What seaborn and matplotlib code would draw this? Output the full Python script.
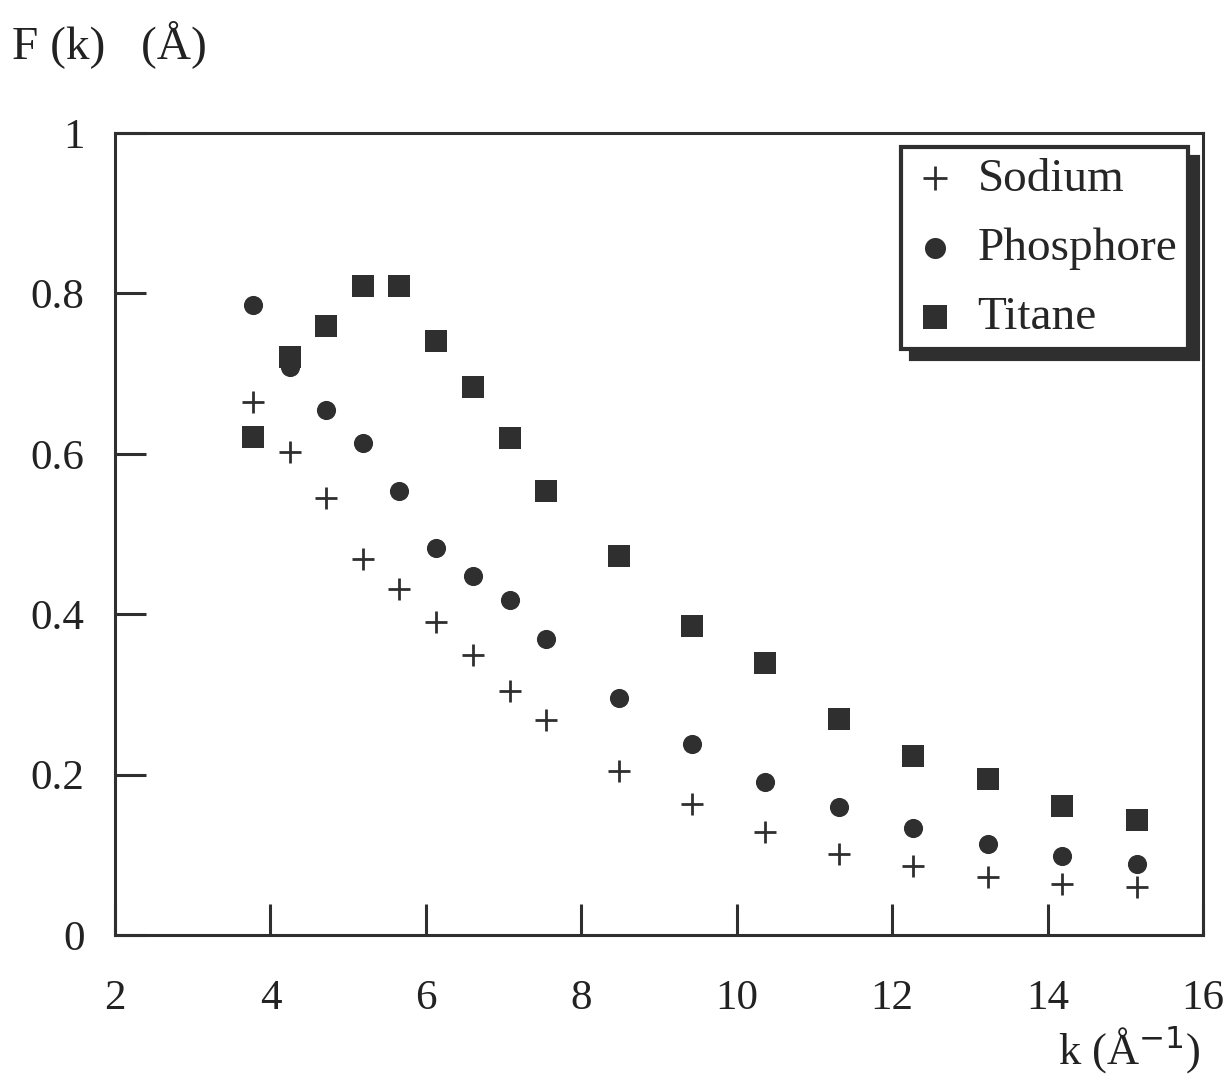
import numpy as np
import pandas as pd
import matplotlib
matplotlib.use('Agg')
import matplotlib.pyplot as plt
import seaborn as sns

# ── Data ───────────────────────────────────────────────────────────────
k_values = [3.77, 4.25, 4.72, 5.19, 5.66, 6.13, 6.61, 7.08, 7.55,
            8.49, 9.43, 10.37, 11.32, 12.27, 13.23, 14.19, 15.15]

sodium = [0.665, 0.602, 0.545, 0.469, 0.431, 0.390, 0.349, 0.304, 0.268,
          0.204, 0.163, 0.129, 0.101, 0.086, 0.073, 0.064, 0.060]
phosphore = [0.785, 0.708, 0.655, 0.613, 0.554, 0.483, 0.448, 0.418, 0.369,
             0.296, 0.238, 0.191, 0.160, 0.134, 0.113, 0.098, 0.089]
titane = [0.621, 0.721, 0.759, 0.809, 0.809, 0.741, 0.683, 0.620, 0.554,
          0.473, 0.385, 0.339, 0.269, 0.223, 0.194, 0.161, 0.143]

series_names = ['Sodium', 'Phosphore', 'Titane']
x_ticks = [2, 4, 6, 8, 10, 12, 14, 16]
y_ticks = [0, 0.2, 0.4, 0.6, 0.8, 1]
y_tick_labels = ['0', '0.2', '0.4', '0.6', '0.8', '1']

df = pd.DataFrame({
    'k': k_values * 3,
    'F': sodium + phosphore + titane,
    'element': np.repeat(series_names, len(k_values)),
})

# ── Style ─────────────────────────────────────────────────────────────
sns.set_style('white')
plt.rcParams['font.family'] = ['Liberation Serif', 'DejaVu Serif']
INK = '#2f2f2f'

fig = plt.figure(figsize=(12.32, 10.77), dpi=100)
ax = fig.add_axes([0.0933, 0.1318, 0.8832, 0.7447])

marker_kw = {
    'Sodium':    dict(marker='+', s=260, linewidth=2.0, color=INK),
    'Phosphore': dict(marker='o', s=190, linewidth=0, color=INK),
    'Titane':    dict(marker='s', s=260, linewidth=0, color=INK),
}
for name in series_names:
    sub = df[df['element'] == name]
    sns.scatterplot(data=sub, x='k', y='F', label=name, ax=ax,
                    legend=False, **marker_kw[name])

ax.set_xlim(2, 16)
ax.set_ylim(0, 1)
ax.set_xticks(x_ticks)
ax.set_yticks(y_ticks)
ax.set_yticklabels(y_tick_labels)
ax.set_xlabel('')
ax.set_ylabel('')
ax.tick_params(axis='both', which='major', bottom=True, left=True,
               top=False, right=False, direction='in', length=22, width=2.2,
               color=INK, labelsize=31, labelcolor='#222222')
ax.tick_params(axis='x', pad=32)
ax.tick_params(axis='y', pad=22)
for sp in ax.spines.values():
    sp.set_visible(True)
    sp.set_linewidth(2.2)
    sp.set_color(INK)

leg = ax.legend(loc='upper right', bbox_to_anchor=(0.986, 0.982),
                borderaxespad=0, fontsize=34, frameon=True, fancybox=False,
                labelspacing=0.55, handletextpad=0.4, handlelength=1.0,
                borderpad=0.22, markerscale=1.1,
                shadow={'ox': 7, 'oy': -7, 'color': INK, 'alpha': 1})
leg.get_frame().set_edgecolor(INK)
leg.get_frame().set_linewidth(3)
leg.get_frame().set_alpha(1)

fig.text(0.01, 1 - 58 / 1077, 'F (k)   (Å)', fontsize=34, color='#222222',
         ha='left', va='baseline')
fig.text(0.975, 1 - 1065 / 1077, 'k (Å$^{-1}$)', fontsize=32, color='#222222',
         ha='right', va='baseline')

fig.savefig('out.png', dpi=100)
